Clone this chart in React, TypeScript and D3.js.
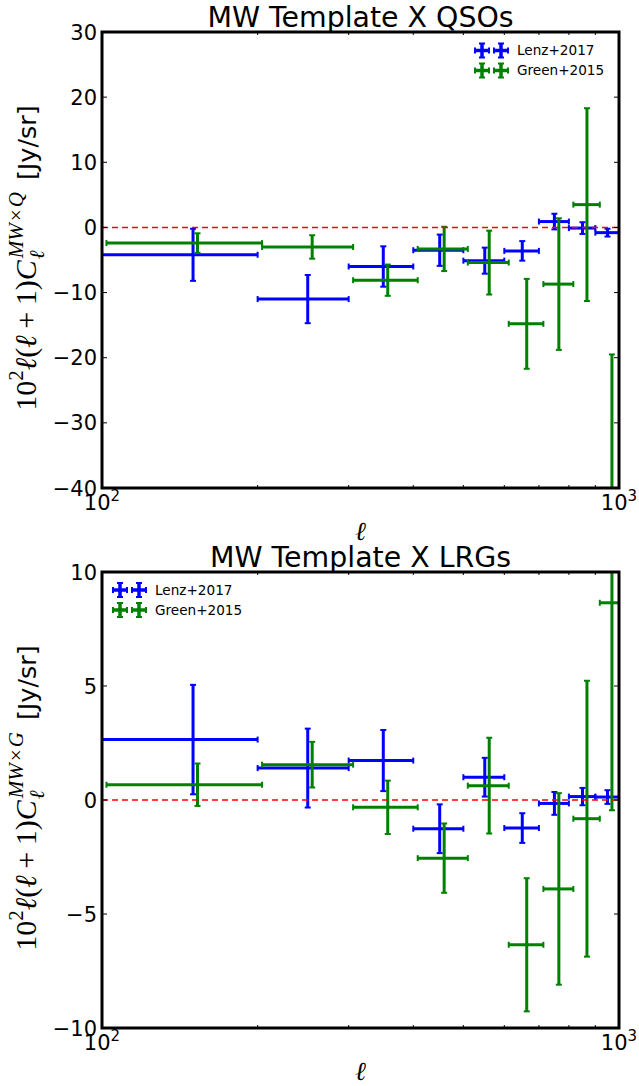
import { useEffect, useRef } from 'react'
import * as d3 from 'd3'

// multipole bins (Lenz); Green+2015 is drawn shifted by a small factor in ell
const ELL    = [150, 250, 350, 450, 550, 650, 750, 850, 950]
const BIN_LO = [100, 200, 300, 400, 500, 600, 700, 800, 900]
const BIN_HI = [200, 300, 400, 500, 600, 700, 800, 900, 1000]
const GREEN_SHIFT = 1.02

const QSO_LENZ      = [-4.2, -11.0, -6.0, -3.5, -5.1, -3.6, 0.9, -0.1, -0.8]
const QSO_LENZ_ERR  = [4.0, 3.7, 3.1, 2.4, 2.0, 1.5, 1.2, 0.9, 0.6]
const QSO_GREEN     = [-2.4, -3.0, -8.1, -3.3, -5.4, -14.8, -8.7, 3.5, -60]
const QSO_GREEN_ERR = [1.5, 1.8, 2.4, 3.4, 4.9, 6.9, 10.1, 14.8, 40.5]

const LRG_LENZ      = [2.65, 1.4, 1.73, -1.26, 1.0, -1.23, -0.15, 0.15, 0.13]
const LRG_LENZ_ERR  = [2.4, 1.73, 1.34, 1.07, 0.85, 0.65, 0.5, 0.38, 0.3]
const LRG_GREEN     = [0.67, 1.55, -0.32, -2.55, 0.63, -6.35, -3.9, -0.82, 8.65]
const LRG_GREEN_ERR = [0.93, 1.0, 1.17, 1.52, 2.1, 2.92, 4.2, 6.05, 9.1]

const QSO_TICKS = [-40, -30, -20, -10, 0, 10, 20, 30]
const LRG_TICKS = [-10, -5, 0, 5, 10]
const MINOR_TICKS = [200, 300, 400, 500, 600, 700, 800, 900]

const BLUE  = '#0000ff'
const GREEN = '#008000'
const SANS  = '"DejaVu Sans", sans-serif'
const SERIF = '"Liberation Serif", "DejaVu Serif", serif'

const X0 = 102, X1 = 619

const PANELS = [
  { id: 'qso', top: 32, bottom: 488, domain: [-40, 30], ticks: QSO_TICKS,
    title: 'MW Template X QSOs', sup: 'Q',
    lenz: QSO_LENZ, lenzErr: QSO_LENZ_ERR, green: QSO_GREEN, greenErr: QSO_GREEN_ERR,
    legend: { x: 482, y: 50.5 } },
  { id: 'lrg', top: 572, bottom: 1028, domain: [-10, 10], ticks: LRG_TICKS,
    title: 'MW Template X LRGs', sup: 'G',
    lenz: LRG_LENZ, lenzErr: LRG_LENZ_ERR, green: LRG_GREEN, greenErr: LRG_GREEN_ERR,
    legend: { x: 120, y: 590 } },
]

const fmt = (v: number) => (v < 0 ? '\u2212' : '') + Math.abs(v)

function put(g: any, x: number, t: string, o: any) {
  const el = g.append('text')
    .attr('x', x).attr('y', -(o.rise || 0))
    .attr('font-size', o.size)
    .attr('font-family', o.family || SERIF)
    .attr('font-style', o.italic ? 'italic' : 'normal')
    .attr('fill', '#000')
    .text(t)
  return (el.node() as SVGTextElement).getComputedTextLength()
}

function yLabel(svg: any, cx: number, cy: number, sup: string) {
  const g = svg.append('g').attr('transform', `translate(${cx},${cy}) rotate(-90)`)
  const inner = g.append('g')
  const F = 30
  const s = F * 0.7
  let x = 0
  x += put(inner, x, '10', { size: F })
  x += put(inner, x, '2', { size: s, rise: F * 0.42 })
  x += put(inner, x, '\u2113', { size: F, italic: true })
  x += put(inner, x, '(', { size: F })
  x += put(inner, x, '\u2113', { size: F, italic: true })
  x += F * 0.22
  x += put(inner, x, '+', { size: F })
  x += F * 0.22
  x += put(inner, x, '1', { size: F })
  x += put(inner, x, ')', { size: F })
  x += put(inner, x, 'C', { size: F, italic: true })
  const subW = put(inner, x + 1, '\u2113', { size: s, italic: true, rise: -F * 0.28 })
  let sx = x + 2
  sx += put(inner, sx, 'MW', { size: s, italic: true, rise: F * 0.45 })
  sx += 2
  sx += put(inner, sx, '\u00d7', { size: s, rise: F * 0.45 })
  sx += 2
  sx += put(inner, sx, sup, { size: s, italic: true, rise: F * 0.45 })
  x = Math.max(x + subW, sx)
  x += F * 0.4
  x += put(inner, x, '[Jy/sr]', { size: 25.5, family: SANS })
  inner.attr('transform', `translate(${-x / 2},0)`)
}

function errorbars(g: any, xs: any, y: any, vals: number[], errs: number[], shift: number, color: string) {
  vals.forEach((v, i) => {
    const cx = xs(ELL[i] * shift)
    const xl = xs(BIN_LO[i] * shift)
    const xr = xs(BIN_HI[i] * shift)
    const cy = y(v)
    const yt = y(v + errs[i])
    const yb = y(v - errs[i])
    const line = (a: number, b: number, c: number, d: number, w: number) =>
      g.append('line').attr('x1', a).attr('y1', b).attr('x2', c).attr('y2', d)
        .attr('stroke', color).attr('stroke-width', w)
    line(xl, cy, xr, cy, 3)
    line(cx, yt, cx, yb, 3)
    line(xl, cy - 3, xl, cy + 3, 2)
    line(xr, cy - 3, xr, cy + 3, 2)
    line(cx - 3, yt, cx + 3, yt, 2)
    line(cx - 3, yb, cx + 3, yb, 2)
  })
}

function legendCross(g: any, cx: number, cy: number, color: string) {
  const line = (a: number, b: number, c: number, d: number, w: number) =>
    g.append('line').attr('x1', a).attr('y1', b).attr('x2', c).attr('y2', d)
      .attr('stroke', color).attr('stroke-width', w)
  line(cx - 7, cy, cx + 7, cy, 3.5)
  line(cx, cy - 7, cx, cy + 7, 3.5)
  line(cx - 7, cy - 3, cx - 7, cy + 3, 2)
  line(cx + 7, cy - 3, cx + 7, cy + 3, 2)
  line(cx - 3, cy - 7, cx + 3, cy - 7, 2)
  line(cx - 3, cy + 7, cx + 3, cy + 7, 2)
}

export default function App() {
  const svgRef = useRef<SVGSVGElement>(null)

  useEffect(() => {
    if (!svgRef.current) return
    const svg = d3.select(svgRef.current)
    svg.selectAll('*').remove()

    const xs = d3.scaleLog().domain([100, 1000]).range([X0, X1])

    PANELS.forEach(p => {
      const y = d3.scaleLinear().domain(p.domain).range([p.bottom, p.top])

      svg.append('clipPath').attr('id', `clip-${p.id}`)
        .append('rect').attr('x', X0).attr('y', p.top)
        .attr('width', X1 - X0).attr('height', p.bottom - p.top)

      const plot = svg.append('g').attr('clip-path', `url(#clip-${p.id})`)
      errorbars(plot, xs, y, p.lenz, p.lenzErr, 1, BLUE)
      errorbars(plot, xs, y, p.green, p.greenErr, GREEN_SHIFT, GREEN)

      plot.append('line')
        .attr('x1', X0).attr('x2', X1).attr('y1', y(0)).attr('y2', y(0))
        .attr('stroke', '#ff0000').attr('stroke-width', 1.5)
        .attr('stroke-dasharray', '6,4')

      // ticks
      p.ticks.forEach(t => {
        svg.append('line').attr('x1', X0).attr('x2', X0 + 5).attr('y1', y(t)).attr('y2', y(t))
          .attr('stroke', '#000').attr('stroke-width', 1)
        svg.append('line').attr('x1', X1 - 5).attr('x2', X1).attr('y1', y(t)).attr('y2', y(t))
          .attr('stroke', '#000').attr('stroke-width', 1)
        svg.append('text')
          .attr('x', X0 - 5).attr('y', y(t)).attr('dy', '0.36em')
          .attr('text-anchor', 'end').attr('font-family', SANS).attr('font-size', 21)
          .text(fmt(t))
      })
      MINOR_TICKS.forEach(t => {
        svg.append('line').attr('x1', xs(t)).attr('x2', xs(t)).attr('y1', p.bottom).attr('y2', p.bottom - 3)
          .attr('stroke', '#000').attr('stroke-width', 1)
        svg.append('line').attr('x1', xs(t)).attr('x2', xs(t)).attr('y1', p.top).attr('y2', p.top + 3)
          .attr('stroke', '#000').attr('stroke-width', 1)
      })
      ;[[100, '2'], [1000, '3']].forEach(([v, e]) => {
        const t = svg.append('text')
          .attr('x', xs(v as number)).attr('y', p.bottom + 22)
          .attr('text-anchor', 'middle').attr('font-family', SANS).attr('font-size', 21)
        t.append('tspan').text('10')
        t.append('tspan').attr('font-size', 15).attr('dy', -9).text(e as string)
      })

      // frame
      svg.append('rect').attr('x', X0).attr('y', p.top)
        .attr('width', X1 - X0).attr('height', p.bottom - p.top)
        .attr('fill', 'none').attr('stroke', '#000').attr('stroke-width', 3)

      // title and labels
      svg.append('text').attr('x', (X0 + X1) / 2).attr('y', p.top - 5)
        .attr('text-anchor', 'middle').attr('font-family', SANS).attr('font-size', 28.4)
        .text(p.title)
      svg.append('text').attr('x', (X0 + X1) / 2).attr('y', p.bottom + 52)
        .attr('text-anchor', 'middle').attr('font-family', SERIF).attr('font-style', 'italic')
        .attr('font-size', 26).text('\u2113')
      yLabel(svg, 36, (p.top + p.bottom) / 2 - 2, p.sup)

      // legend
      const lg = svg.append('g')
      ;[['Lenz+2017', BLUE], ['Green+2015', GREEN]].forEach(([name, c], i) => {
        const cy = p.legend.y + i * 20
        legendCross(lg, p.legend.x, cy, c)
        legendCross(lg, p.legend.x + 19, cy, c)
        lg.append('text').attr('x', p.legend.x + 35).attr('y', cy).attr('dy', '0.36em')
          .attr('font-family', SANS).attr('font-size', 13.6).text(name)
      })
    })
  }, [])

  return (
    <svg ref={svgRef} width={639} height={1086}
      style={{ position: 'absolute', left: 0, top: 0, background: '#fff' }} />
  )
}
